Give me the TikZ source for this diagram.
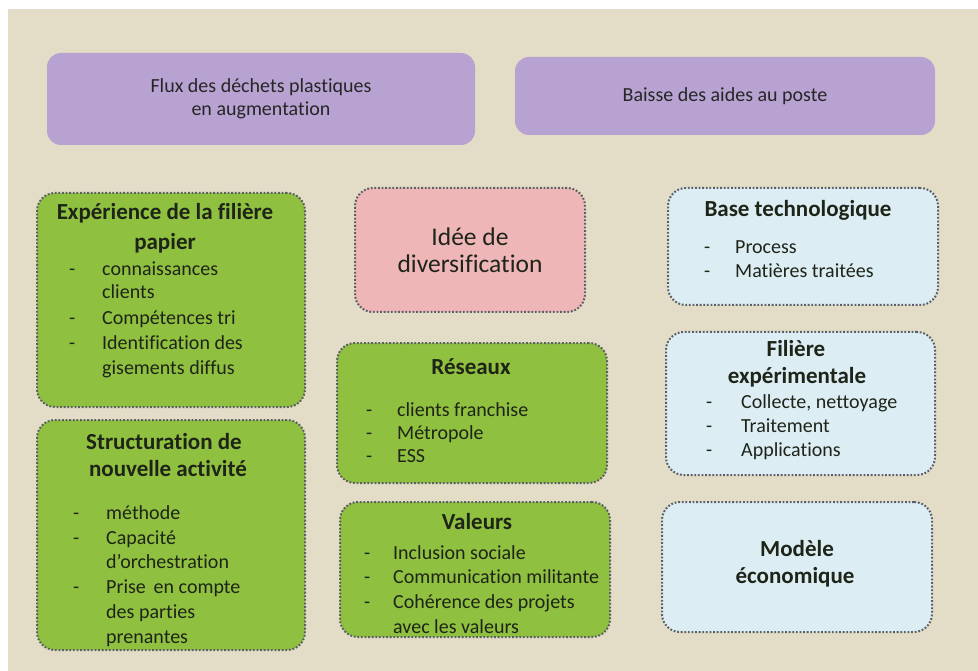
\documentclass[tikz,border=0pt]{standalone}
\usepackage{fontspec}
\setmainfont{Carlito}[Ligatures=NoCommon]
\definecolor{bg}{HTML}{E3DCC7}
\definecolor{purp}{HTML}{B8A2D2}
\definecolor{pinkb}{HTML}{EFB6B8}
\definecolor{greenb}{HTML}{90C040}
\definecolor{blueb}{HTML}{DCEDF4}
\definecolor{dotc}{HTML}{5A5F66}
\definecolor{txt}{HTML}{1E2418}
\begin{document}
\begin{tikzpicture}[x=1pt,y=-1pt,
  box/.style={rounded corners=18pt, draw=dotc, line width=2pt, dash pattern=on 1.8pt off 1.8pt, inner sep=0pt, outer sep=0pt},
  gbox/.style={box, fill=greenb},
  bbox/.style={box, fill=blueb},
  pbox/.style={box, fill=pinkb},
  vbox/.style={rounded corners=14pt, fill=purp, inner sep=0pt, outer sep=0pt},
  ttl/.style={font=\fontsize{23}{27}\selectfont\bfseries, text=txt, inner sep=0pt, text height=0.7em, text depth=0.2em, yshift=-4pt},
  li/.style={font=\fontsize{20}{24}\selectfont, text=txt, inner sep=0pt, anchor=west, text height=0.7em, text depth=0.2em, yshift=-3.5pt},
  ptxt/.style={font=\fontsize{20}{23}\selectfont, text=black!85, align=center, inner sep=0pt},
]
\useasboundingbox (0,0) rectangle (978,671);
\fill[white] (0,0) rectangle (978,671);
\fill[bg] (8,9) rectangle (978,671);

% purple boxes
\node[vbox, minimum width=428pt, minimum height=92pt] (p1) at (261,99) {};
\node[vbox, minimum width=420pt, minimum height=78pt] (p2) at (725,96) {};
\node[ptxt] (p1t) at (p1.center) {Flux des déchets plastiques\\en augmentation};
\node[ptxt] (p2t) at (p2.center) {Baisse des aides au poste};

% boxes
\node[gbox, minimum width=268pt, minimum height=214pt] (exp) at (171,300) {};
\node[gbox, minimum width=268pt, minimum height=230pt] (str) at (171,535) {};
\node[pbox, minimum width=230pt, minimum height=124pt] (idee) at (470,250) {};
\node[gbox, minimum width=270pt, minimum height=140pt] (res) at (472,413) {};
\node[gbox, minimum width=270pt, minimum height=135pt] (val) at (475,569.5) {};
\node[bbox, minimum width=270pt, minimum height=117pt] (base) at (803,246.5) {};
\node[bbox, minimum width=269pt, minimum height=143pt] (fil) at (800.5,403.5) {};
\node[bbox, minimum width=270pt, minimum height=130pt] (mod) at (797,567) {};

% Experience
\node[ttl] (expt1) at (165,213) {Expérience de la filière};
\node[ttl] (expt2) at (165,243) {papier};
\node[li] (expd1) at (69,270) {-};
\node[li] (expl1) at (102,270) {connaissances};
\node[li] (expl2) at (102,293) {clients};
\node[li] (expd2) at (69,318) {-};
\node[li] (expl3) at (102,318) {Compétences tri};
\node[li] (expd3) at (69,343) {-};
\node[li] (expl4) at (102,343) {Identification des};
\node[li] (expl5) at (102,368) {gisements diffus};

% Structuration
\node[ttl] (strt1) at (164,443) {Structuration de};
\node[ttl] (strt2) at (168,470) {nouvelle activité};
\node[li] (strd1) at (73,513) {-};
\node[li] (strl1) at (106,513) {méthode};
\node[li] (strd2) at (73,538) {-};
\node[li] (strl2) at (106,538) {Capacité};
\node[li] (strl3) at (106,562) {d’orchestration};
\node[li] (strd3) at (73,587) {-};
\node[li] (strl4) at (106,587) {Prise\, en compte};
\node[li] (strl5) at (106,612) {des parties};
\node[li] (strl6) at (106,637) {prenantes};

% Idee
\node[font=\fontsize{25.5}{27}\selectfont, text=txt, align=center, inner sep=0pt] (ideet) at (470,250) {Idée de\\diversification};

% Reseaux
\node[ttl] (rest) at (471,368) {Réseaux};
\node[li] (resd1) at (366,410) {-};
\node[li] (resl1) at (397,410) {clients franchise};
\node[li] (resd2) at (366,433) {-};
\node[li] (resl2) at (397,433) {Métropole};
\node[li] (resd3) at (366,456) {-};
\node[li] (resl3) at (397,456) {ESS};

% Valeurs
\node[ttl] (valt) at (477,523) {Valeurs};
\node[li] (vald1) at (364,553) {-};
\node[li] (vall1) at (393,553) {Inclusion sociale};
\node[li] (vald2) at (364,577) {-};
\node[li] (vall2) at (393,577) {Communication militante};
\node[li] (vald3) at (364,602) {-};
\node[li] (vall3) at (393,602) {Cohérence des projets};
\node[li] (vall4) at (393,627) {avec les valeurs};

% Base technologique
\node[ttl] (baset) at (798,210) {Base technologique};
\node[li] (based1) at (704,248) {-};
\node[li] (basel1) at (735,248) {Process};
\node[li] (based2) at (704,272) {-};
\node[li] (basel2) at (735,272) {Matières traitées};

% Filiere
\node[ttl] (filt1) at (796,350) {Filière};
\node[ttl] (filt2) at (797,377) {expérimentale};
\node[li] (fild1) at (706,402) {-};
\node[li] (fill1) at (741,402) {Collecte, nettoyage};
\node[li] (fild2) at (706,426) {-};
\node[li] (fill2) at (741,426) {Traitement};
\node[li] (fild3) at (706,450) {-};
\node[li] (fill3) at (741,450) {Applications};

% Modele
\node[ttl] (modt1) at (797,550) {Modèle};
\node[ttl] (modt2) at (795,577) {économique};
\end{tikzpicture}
\end{document}
